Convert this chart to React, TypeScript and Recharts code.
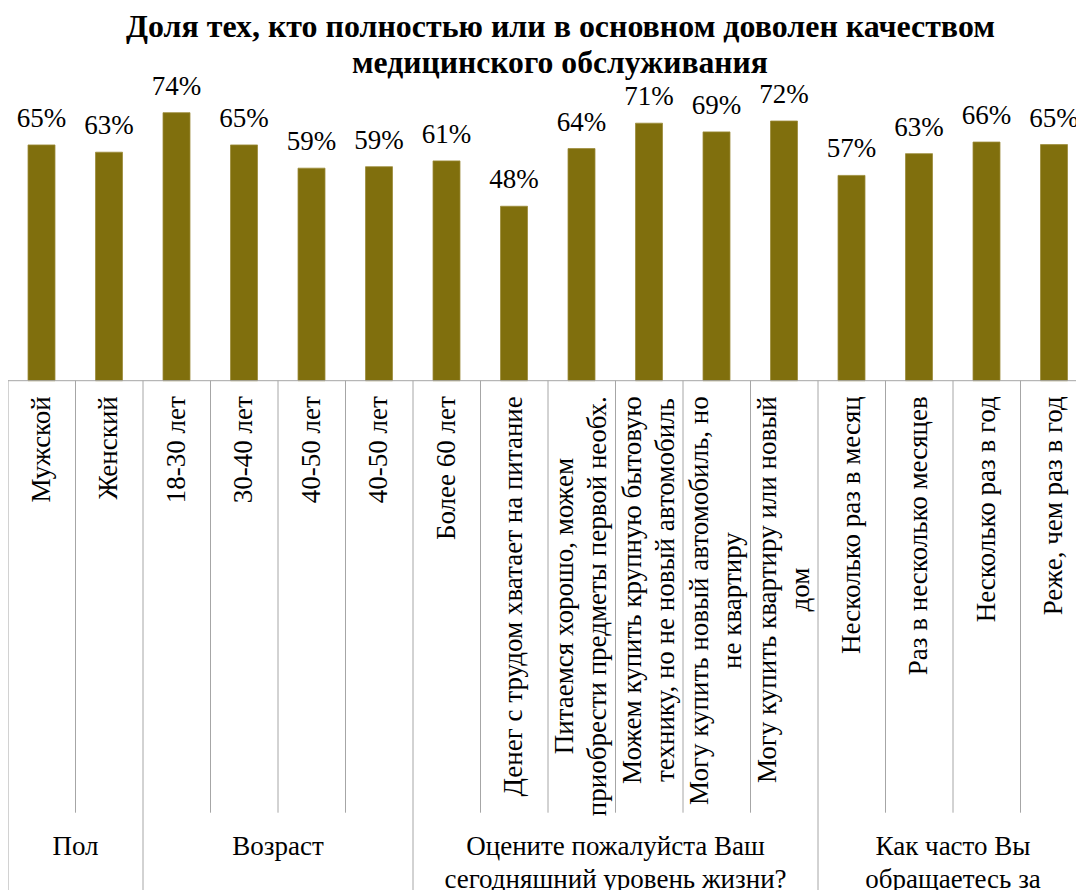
import React from 'react';
import { BarChart, Bar, XAxis, YAxis, LabelList } from 'recharts';

const titleLines = [
  'Доля тех, кто полностью  или в основном доволен качеством',
  'медицинского  обслуживания',
];

const categories = [
  'Мужской',
  'Женский',
  '18-30 лет',
  '30-40 лет',
  '40-50 лет',
  '40-50 лет',
  'Более 60 лет',
  'Денег с трудом хватает на питание',
  'Питаемся хорошо, можем\nприобрести предметы первой необх.',
  'Можем купить крупную бытовую\nтехнику, но не новый автомобиль',
  'Могу купить новый автомобиль, но\nне квартиру',
  'Могу купить квартиру или новый\nдом',
  'Несколько раз в месяц',
  'Раз в несколько месяцев',
  'Несколько раз в год',
  'Реже, чем раз в год',
];

const values = [
  0.65, 0.63, 0.739, 0.65, 0.586, 0.59, 0.606, 0.481,
  0.64, 0.71, 0.686, 0.716, 0.566, 0.626, 0.658, 0.651,
];

const groupLabels = [
  'Пол',
  'Возраст',
  'Оцените пожалуйста Ваш\nсегодняшний уровень жизни?',
  'Как часто Вы\nобращаетесь за',
];
const groupSizes = [2, 4, 6, 4];

const data = categories.map((name, i) => ({ idx: i, name, value: values[i] }));

const FONT = "'Liberation Serif', 'Times New Roman', serif";
const W = 1080;
const H = 882;
const M = { top: 10, right: 0, bottom: 0, left: 0 };
const PLOT_H = 362.7;
const XAXIS_H = H - M.top - M.bottom - PLOT_H;
const BAND = (W - M.left - M.right) / categories.length;
const FS = 27;
const LH = 33;
const SEP = '#A6A6A6';

const groupStarts: number[] = [];
groupSizes.reduce((acc, s) => {
  groupStarts.push(acc);
  return acc + s;
}, 0);

let ctx: CanvasRenderingContext2D | null = null;
function measure(text: string, size: number) {
  if (!ctx) ctx = document.createElement('canvas').getContext('2d');
  if (!ctx) return text.length * size * 0.45;
  ctx.font = `${size}px ${FONT}`;
  return ctx.measureText(text).width;
}

function CategoryTick(props: any) {
  const x = Number(props.x);
  const y = Number(props.y);
  const i = props.index as number;
  const lines = categories[i].split('\n');
  const maxW = Math.max(...lines.map((l) => measure(l, FS)));
  const top = y + 15.5;
  const cy = top + maxW / 2;
  const left = x - BAND / 2;
  const g = groupStarts.indexOf(i);
  const out: React.ReactNode[] = [];
  out.push(
    <line key="sep" x1={left} x2={left} y1={y} y2={y + (g >= 0 ? XAXIS_H : 432)} stroke={SEP} strokeWidth={1} />
  );
  if (i === categories.length - 1) {
    out.push(
      <line key="sepr" x1={x + BAND / 2} x2={x + BAND / 2} y1={y} y2={y + XAXIS_H} stroke={SEP} strokeWidth={1} />
    );
  }
  lines.forEach((l, k) => {
    const bx = x + 8 + (k - (lines.length - 1) / 2) * LH;
    out.push(
      <text
        key={'l' + k}
        x={bx}
        y={cy}
        transform={`rotate(-90, ${bx}, ${cy})`}
        textAnchor="middle"
        fontSize={FS}
        fontFamily={FONT}
        fill="#000"
      >
        {l}
      </text>
    );
  });
  if (g >= 0) {
    const gc = left + (groupSizes[g] * BAND) / 2;
    groupLabels[g].split('\n').forEach((l, k) => {
      out.push(
        <text
          key={'g' + k}
          x={gc}
          y={y + 474.3 + k * LH}
          textAnchor="middle"
          fontSize={FS}
          fontFamily={FONT}
          fill="#000"
        >
          {l}
        </text>
      );
    });
  }
  return <g>{out}</g>;
}

function ValueLabel(props: any) {
  const x = Number(props.x);
  const y = Number(props.y);
  const w = Number(props.width);
  const v = Number(props.value);
  return (
    <text x={x + w / 2} y={y - 18} textAnchor="middle" fontSize={FS} fontFamily={FONT} fill="#000">
      {Math.round(v * 100) + '%'}
    </text>
  );
}

export default function App() {
  return (
    <div
      style={{
        position: 'fixed',
        top: 8,
        left: 8,
        width: 1068,
        height: 882,
        overflow: 'hidden',
        background: '#fff',
      }}
    >
      <BarChart width={W} height={H} data={data} margin={M}>
        <XAxis
          dataKey="idx"
          type="category"
          interval={0}
          height={XAXIS_H}
          tickSize={0}
          tickMargin={0}
          tickLine={false}
          axisLine={{ stroke: SEP, strokeWidth: 1 }}
          tick={<CategoryTick />}
        />
        <YAxis hide domain={[0, 1]} />
        <Bar dataKey="value" fill="#806F0D" stroke="#9C8C3A" strokeWidth={0.8} barSize={27} isAnimationActive={false}>
          <LabelList dataKey="value" content={<ValueLabel />} />
        </Bar>
      </BarChart>
      <svg
        width={1068}
        height={90}
        style={{ position: 'absolute', left: 0, top: 0, pointerEvents: 'none' }}
      >
        <text x={552.5} y={29} textAnchor="middle" fontSize={32} fontWeight="bold" fontFamily={FONT} fill="#000" textLength={869} lengthAdjust="spacingAndGlyphs">
          {titleLines[0]}
        </text>
        <text x={552} y={65} textAnchor="middle" fontSize={32} fontWeight="bold" fontFamily={FONT} fill="#000" textLength={416} lengthAdjust="spacingAndGlyphs">
          {titleLines[1]}
        </text>
      </svg>
    </div>
  );
}
